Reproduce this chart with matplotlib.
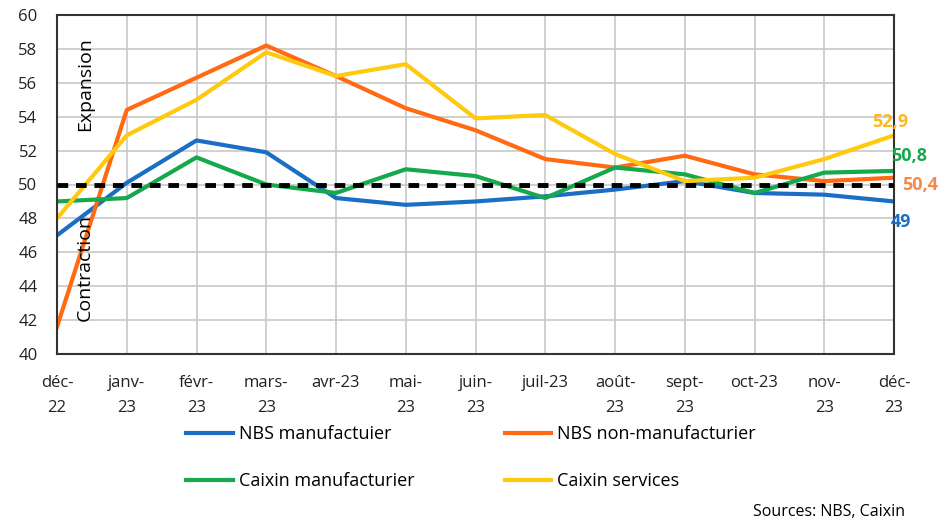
import matplotlib.pyplot as plt

plt.rcParams["font.family"] = ["Open Sans", "DejaVu Sans"]

# Données (indices PMI)
mois = ["déc-\n22", "janv-\n23", "févr-\n23", "mars-\n23", "avr-23", "mai-\n23",
        "juin-\n23", "juil-23", "août-\n23", "sept-\n23", "oct-23", "nov-\n23", "déc-\n23"]
nbs_manuf = [47.0, 50.1, 52.6, 51.9, 49.2, 48.8, 49.0, 49.3, 49.7, 50.2, 49.5, 49.4, 49.0]
nbs_non_manuf = [41.6, 54.4, 56.3, 58.2, 56.4, 54.5, 53.2, 51.5, 51.0, 51.7, 50.6, 50.2, 50.4]
caixin_manuf = [49.0, 49.2, 51.6, 50.0, 49.5, 50.9, 50.5, 49.2, 51.0, 50.6, 49.5, 50.7, 50.8]
caixin_services = [48.0, 52.9, 55.0, 57.8, 56.4, 57.1, 53.9, 54.1, 51.8, 50.2, 50.4, 51.5, 52.9]

bleu = "#1a6fc4"
orange = "#ff6a13"
vert = "#16a84c"
jaune = "#ffc90e"

fig = plt.figure(figsize=(9.44, 5.24), dpi=100)
ax = fig.add_axes([57 / 944, 1 - 354 / 524, (894 - 57) / 944, (354 - 15) / 524])

x = list(range(len(mois)))
l1, = ax.plot(x, nbs_manuf, color=bleu, lw=3, label="NBS manufactuier")
l2, = ax.plot(x, nbs_non_manuf, color=orange, lw=3, label="NBS non-manufacturier")
l3, = ax.plot(x, caixin_manuf, color=vert, lw=3, label="Caixin manufacturier")
l4, = ax.plot(x, caixin_services, color=jaune, lw=3, label="Caixin services")
ax.axhline(50, color="black", lw=3.5, dashes=(2.2, 1.6), zorder=3)

ax.set_xlim(0, len(mois) - 1)
ax.set_ylim(40, 60)
ax.set_yticks(range(40, 61, 2))
ax.set_xticks(x)
ax.set_xticklabels(mois, fontsize=12, color="#222222", linespacing=1.75)
ax.tick_params(axis="y", labelsize=12, colors="#222222", length=0, pad=14)
ax.tick_params(axis="x", length=0, pad=15)
ax.grid(True, color="#c8c8c8", lw=1.2)
ax.set_axisbelow(True)
for s in ax.spines.values():
    s.set_color("#333333")
    s.set_linewidth(1.5)

# Annotations zones
ax.text(0.4, 55.9, "Expansion", rotation=90, ha="center", va="center", fontsize=14)
ax.text(0.4, 45.1, "Contraction", rotation=90, ha="center", va="center", fontsize=14)

# Dernières valeurs
ax.text(11.94, 53.7, "52,9", color="#ffb81c", fontsize=13,
        fontweight="bold", ha="center", va="center")
ax.text(12.21, 51.7, "50,8", color=vert, fontsize=13,
        fontweight="bold", ha="center", va="center")
ax.text(12.37, 49.95, "50,4", color="#f4894a", fontsize=13,
        fontweight="bold", ha="center", va="center")
ax.text(12.1, 47.8, "49", color=bleu, fontsize=13,
        fontweight="bold", ha="center", va="center")

fig.legend(handles=[l1, l3, l2, l4], ncol=2, loc="upper left",
           bbox_to_anchor=(170 / 944, 1 - 409 / 524), frameon=False, fontsize=13,
           handlelength=2.6, handletextpad=0.3, columnspacing=5.0, labelspacing=1.6)

fig.text(905 / 944, 1 - 512 / 524, "Sources: NBS, Caixin", ha="right", va="center",
         fontsize=11.5)

fig.savefig("out.png", dpi=100)
